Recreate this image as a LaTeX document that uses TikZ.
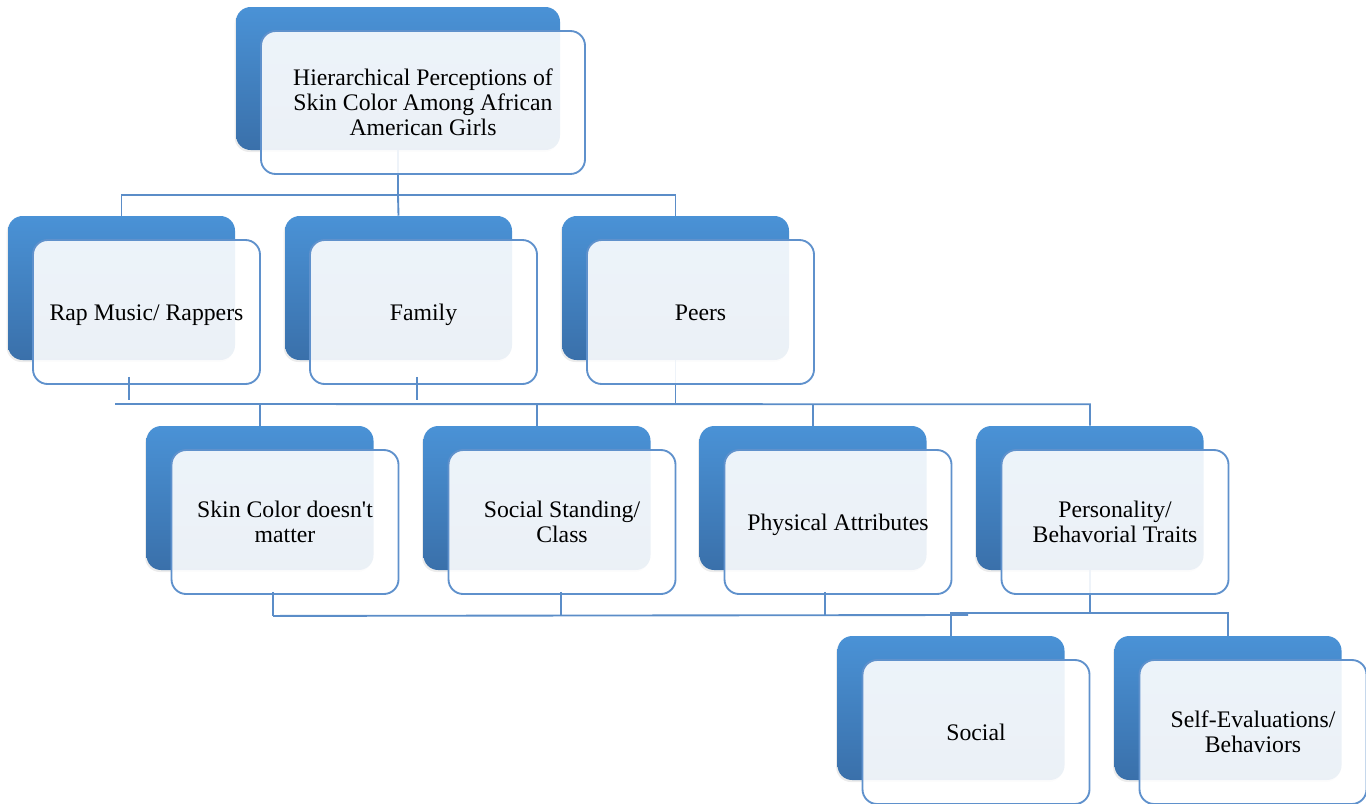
\documentclass[tikz,border=0pt]{standalone}
\usepackage{fontspec}
\setmainfont{Liberation Serif}[Ligatures=TeXOff]
\usetikzlibrary{calc,shadows,backgrounds}
\definecolor{boxline}{HTML}{5F91CC}
\definecolor{linkblue}{HTML}{5B8DC8}
\definecolor{backtop}{HTML}{4A92D6}
\definecolor{backbot}{HTML}{3A70AA}

% back card + front card, named #2-b and #2
\newcommand\tierbox[5][]{%
  \node[backbox,#1] (#2-b) at (#3,#4) {};
  \node[frontbox,#1] (#2) at ([shift={(25,24)}]#2-b.center) {#5};}
% one-line labels sit a little lower
\newcommand\oneline{\rule[-4pt]{0pt}{20.5pt}}

\begin{document}
\begin{tikzpicture}[x=0.75pt,y=-0.75pt,
    backbox/.style={rounded corners=11pt,top color=backtop,bottom color=backbot,
      minimum width=170.25pt,minimum height=108pt,
      drop shadow={shadow xshift=-1pt,shadow yshift=-1.5pt,opacity=.15}},
    frontbox/.style={draw=boxline,line width=1.4pt,rounded corners=11pt,
      fill=white,fill opacity=.9,text opacity=1,inner sep=0pt,
      minimum width=170.25pt,minimum height=108pt,align=center,
      font=\fontsize{17.8}{18.9}\selectfont},
    wide/.style={minimum width=243pt,minimum height=107.25pt},
    conn/.style={draw=linkblue,line width=1.4pt}]
  \useasboundingbox (0,0) rectangle (1366,803);

  \tierbox[wide]{top}{398}{78.5}{Hierarchical Perceptions of\\Skin Color Among African\\American Girls}

  \tierbox{rap}{121.5}{288}{\oneline Rap Music/ Rappers}
  \tierbox{family}{398.5}{288}{\oneline Family}
  \tierbox{peers}{675.5}{288}{\oneline Peers}

  \tierbox{skin}{260}{498}{Skin Color doesn't\\matter}
  \tierbox{standing}{537}{498}{Social Standing/\\Class}
  \tierbox{physical}{813}{498}{\oneline Physical Attributes}
  \tierbox{personality}{1090}{498}{Personality/\\Behavorial Traits}

  \tierbox{social}{951}{708}{\oneline Social}
  \tierbox{selfeval}{1228}{708}{Self-Evaluations/\\Behaviors}

  \begin{scope}[on background layer]
    % top -> second row
    \draw[conn] (top-b.south) -- ++(0,45) coordinate (bus1);
    \draw[conn] (rap-b.north) |- (bus1) -| (peers-b.north);
    \draw[conn] (bus1) -- (family-b.north);

    % peers -> third row
    \draw[conn] (peers-b.south) -- ++(0,44) coordinate (bus2);
    \coordinate (bus2w) at (115,404);
    \draw[conn] (bus2w) -- (bus2 -| personality-b.north) -- (personality-b.north);
    \foreach \Node in {skin,standing,physical}
      \draw[conn] (\Node-b.north) -- (\Node-b.north |- bus2);

    % personality -> fourth row
    \draw[conn] (personality-b.south) -- ++(0,43) coordinate (bus4);
    \draw[conn] (social-b.north) |- (bus4) -| (selfeval-b.north);
  \end{scope}

  % loose stubs under the second row
  \foreach \Node/\dx in {rap/-17.5,family/-6.5}
    \draw[conn] ($(\Node.south)+(\dx,-8)$) -- ++(0,23);

  % stubs under the third row, joined below
  \foreach \Node/\dx in {skin/-12,standing/-1,physical/-13}
    \draw[conn] ($(\Node.south)+(\dx,-3)$) -- ++(0,24) coordinate (\Node-t);
  \coordinate (bus3e) at (968,615);
  \draw[conn] (skin-t) -- (bus3e);
\end{tikzpicture}
\end{document}
